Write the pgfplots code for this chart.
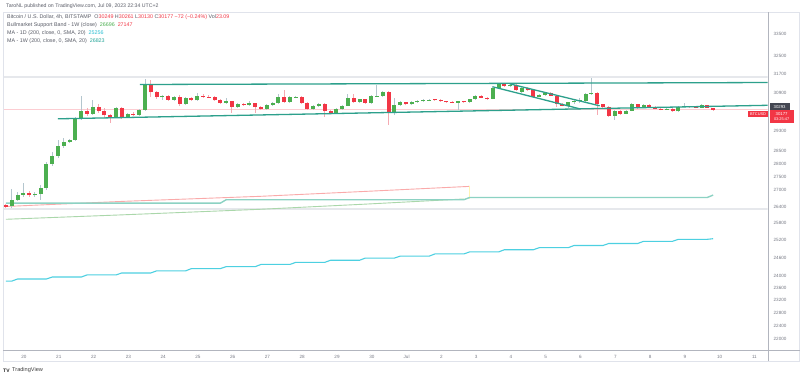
\documentclass[border=0pt]{standalone}
\usepackage{pgfplots}
\pgfplotsset{compat=1.18}
\usepackage{pgfplotstable}
\usepackage{fontspec}
\setmainfont{Liberation Sans}

\definecolor{tvup}{RGB}{76,175,80}
\definecolor{tvdown}{RGB}{242,54,69}
\definecolor{tvupwick}{RGB}{180,198,206}
\definecolor{tvdownwick}{RGB}{245,170,178}
\definecolor{tvtext}{RGB}{90,93,104}
\definecolor{tvgray}{RGB}{120,123,134}
\definecolor{tvdark}{RGB}{67,70,81}
\definecolor{trend}{RGB}{45,160,140}
\definecolor{macyan}{RGB}{77,208,225}
\definecolor{macyantxt}{RGB}{38,190,210}
\definecolor{mateal}{RGB}{140,210,195}
\definecolor{matealtxt}{RGB}{38,166,154}
\definecolor{bandred}{RGB}{250,170,170}
\definecolor{bandgreen}{RGB}{170,215,170}
\definecolor{hline}{RGB}{230,232,236}
\definecolor{frame}{RGB}{224,227,235}
\definecolor{axisln}{RGB}{178,181,190}
\definecolor{priceln}{RGB}{252,205,210}
\definecolor{bandyellow}{RGB}{255,245,180}

\pgfplotstableread{
i O H L C
1 26405 27057 26357 26650
2 26650 26945 26613 26834
3 26834 27282 26760 26897
5 26815 26945 26760 26860
6 26852 27206 26650 27083
7 27083 28083 27019 28006
8 28006 28473 27929 28317
9 28317 28948 28239 28710
10 28710 29028 28631 28880
11 28880 28988 28829 28948
12 28948 29880 28908 29826
13 29826 30761 29760 30144
15 30007 30592 29966 30311
19 29854 30298 29842 30243
21 29871 30048 29842 30019
23 29966 30214 29924 30173
24 30173 31478 30131 31232
27 30706 30804 30592 30761
29 30592 30761 30550 30706
31 30411 30719 30382 30664
33 30563 30889 30550 30774
38 30453 30676 30424 30521
40 30311 30466 30256 30424
42 30369 30550 30340 30437
45 30214 30424 30173 30382
46 30382 30508 30340 30453
47 30453 30846 30424 30732
49 30495 30761 30466 30706
50 30685 30740 30655 30706
53 30202 30382 30173 30340
54 30340 30466 30298 30424
57 30061 30256 30048 30202
58 30202 30382 30173 30353
59 30353 30846 30340 30676
61 30495 30634 30466 30605
63 30453 30804 30424 30749
64 30749 31245 30719 30774
65 30774 30974 30719 30902
67 30061 30676 29966 30382
68 30382 30550 30340 30495
70 30403 30529 30382 30495
71 30487 30571 30466 30537
72 30529 30613 30508 30579
73 30571 30634 30550 30600
78 30474 30550 30173 30529
80 30508 30634 30466 30621
81 30621 30804 30592 30761
84 30634 31159 30613 31090
85 31090 31318 31060 31275
87 31167 31275 31124 31232
89 30932 31124 30889 31090
92 30732 30846 30698 30804
93 30804 30910 30761 30876
97 30353 30508 30256 30479
98 30479 30592 30424 30550
99 30550 30676 30466 30592
100 30550 30889 30466 30846
101 30846 31522 30804 30876
105 29924 30173 29760 30144
107 30007 30152 29987 30131
108 30131 30445 30110 30411
110 30243 30403 30235 30382
114 30185 30235 30173 30214
116 30102 30340 30090 30311
117 30311 30466 30277 30330
120 30265 30403 30256 30369
}\upc

\pgfplotstableread{
i O H L C
0 26466 26503 26357 26394
4 26890 26982 26760 26815
14 30144 30256 29924 30007
16 30311 30424 30048 30102
17 30102 30256 29842 29937
18 29937 30007 29637 29854
20 30243 30298 29801 29854
22 30019 30090 29924 29966
25 31232 31448 30719 30902
26 30902 30974 30634 30732
28 30761 30804 30550 30592
30 30706 30804 30340 30411
32 30664 30719 30550 30563
34 30774 30846 30676 30732
35 30732 30804 30676 30698
36 30698 30761 30550 30571
37 30571 30634 30424 30453
39 30521 30550 30048 30311
41 30424 30466 30340 30369
43 30437 30466 30048 30285
44 30285 30340 30173 30214
48 30732 31017 30466 30495
51 30706 30761 30424 30453
52 30453 30508 30173 30202
55 30424 30466 29895 30102
56 30102 30173 30007 30061
60 30676 30846 30466 30495
62 30605 30634 30424 30453
66 30902 30974 29555 30061
69 30487 30508 30361 30403
74 30613 30634 30550 30579
75 30579 30613 30508 30529
76 30529 30550 30466 30495
77 30495 30529 30445 30474
79 30529 30550 30466 30495
82 30761 30782 30655 30689
83 30689 30719 30592 30634
86 31275 31296 31146 31188
88 31232 31253 30953 30987
90 31090 31124 30953 30987
91 30987 31017 30698 30732
94 30876 30910 30740 30774
95 30774 30804 30298 30411
96 30411 30466 30319 30353
102 30876 30910 29966 30411
103 30411 30424 30256 30311
104 30311 30340 29883 29924
106 30144 30173 29966 30007
109 30411 30424 30214 30243
111 30382 30403 30277 30298
112 30298 30319 30194 30214
113 30214 30256 30152 30185
115 30214 30235 30090 30102
118 30319 30340 30256 30277
119 30277 30298 30235 30255
121 30369 30382 30256 30249
122 30249 30261 30130 30177
}\downc

\begin{document}
\begin{tikzpicture}
\begin{scope}[x=1pt,y=1pt]
\useasboundingbox (0,0) rectangle (800,378);
\fill[white] (0,0) rectangle (800,378);
\end{scope}

\begin{axis}[
  at={(4pt,27pt)}, anchor=south west,
  scale only axis, width=764pt, height=338pt,
  xmin=-0.33, xmax=131.4,
  ymode=log, ymin=21639, ymax=34491,
  axis line style={draw=none},
  major tick length=0pt, minor tick num=0,
  xtick={3.12,9.12,15.12,21.12,27.12,33.12,39.12,45.12,51.12,57.12,63.12,69.12,75.12,81.12,87.12,93.12,99.12,105.12,111.12,117.12,123.12,129.12},
  xticklabels={20,21,22,23,24,25,26,27,28,29,30,Jul,2,3,4,5,6,7,8,9,10,11},
  ytick={22000,22400,22800,23200,23600,24000,24600,25200,25800,26400,27000,27500,28000,28500,29300,30900,31700,32500,33500},
  yticklabels={22000,22400,22800,23200,23600,24000,24600,25200,25800,26400,27000,27500,28000,28500,29300,30900,31700,32500,33500},
  yticklabel pos=right,
  ticklabel style={font=\fontsize{4.6}{5.5}\selectfont, text=tvgray},
  yticklabel style={anchor=west, xshift=2.5pt},
  xticklabel style={yshift=-1pt},
  grid=none,
]
% horizontal drawings
\addplot[hline, line width=1.5pt, forget plot] coordinates {(-0.33,31578) (131.4,31578)};
\addplot[hline, line width=1.5pt, forget plot] coordinates {(-0.33,26321) (131.4,26321)};
\addplot[priceln, line width=0.9pt, forget plot] coordinates {(-0.33,30177) (131.4,30177)};
% MA 1D
\addplot[macyan, line width=1.1pt, forget plot] coordinates {
(0,23820)(1,23820)(2,23890)(7,23890)(8,23955)(13,23955)(14,24025)(19,24025)(20,24090)(25,24090)(26,24160)(31,24160)(32,24235)(37,24235)(38,24300)(43,24300)(44,24375)(49,24375)(50,24445)(55,24445)(56,24515)(61,24515)(62,24590)(67,24590)(68,24655)(73,24655)(74,24730)(79,24730)(80,24800)(85,24800)(86,24875)(91,24875)(92,24945)(97,24945)(98,25020)(103,25020)(104,25090)(109,25090)(110,25165)(115,25165)(116,25235)(121,25235)(122,25256)};
% Bull market support band
\addplot[bandred, line width=0.9pt, forget plot] coordinates {(0,26405)(20,26590)(44,26778)(62,26960)(80,27147)};
\addplot[bandgreen, line width=0.9pt, forget plot] coordinates {(0,25942)(20,26100)(44,26303)(62,26490)(79,26680)};
\addplot[bandyellow, line width=1.5pt, forget plot] coordinates {(80,26690)(80,27147)};
% MA 1W
\addplot[mateal, line width=1.4pt, forget plot] coordinates {(0,26527)(37,26527)(38,26651)(79,26651)(80,26735)(121,26735)(122,26823)};

% candles: wicks
\addplot[draw=none, mark=none, forget plot, error bars/.cd, y dir=plus, y explicit, error mark=none,
  error bar style={draw=tvupwick, line width=1pt}]
  table[x=i, y=L, y error plus expr=\thisrow{H}-\thisrow{L}] {\upc};
\addplot[draw=none, mark=none, forget plot, error bars/.cd, y dir=plus, y explicit, error mark=none,
  error bar style={draw=tvdownwick, line width=1pt}]
  table[x=i, y=L, y error plus expr=\thisrow{H}-\thisrow{L}] {\downc};
% candles: bodies
\addplot[draw=none, mark=none, forget plot, error bars/.cd, y dir=plus, y explicit, error mark=none,
  error bar style={draw=tvup, line width=4pt, line cap=butt}]
  table[x=i, y=O, y error plus expr=\thisrow{C}-\thisrow{O}] {\upc};
\addplot[draw=none, mark=none, forget plot, error bars/.cd, y dir=plus, y explicit, error mark=none,
  error bar style={draw=tvdown, line width=4pt, line cap=butt}]
  table[x=i, y=C, y error plus expr=\thisrow{O}-\thisrow{C}] {\downc};

% trend lines (drawings)
\addplot[trend, line width=1.3pt, forget plot] coordinates {(8.98,29801)(131.4,30361)};
\addplot[trend, line width=1.3pt, forget plot] coordinates {(23.12,31245)(131.4,31331)};
\addplot[trend, line width=1.3pt, forget plot] coordinates {(83.98,31146)(98.98,30214)};
\addplot[trend, line width=1.3pt, forget plot] coordinates {(86.91,31275)(102.43,30340)};
\end{axis}

\begin{scope}[x=1pt,y=1pt]
% frame
\draw[frame, line width=0.8pt] (3.5,16.5) rectangle (800,365.5);
\draw[axisln, line width=0.8pt] (3.5,27) -- (800,27);
\draw[axisln, line width=0.8pt] (768.5,16.5) -- (768.5,365.5);
% header
\node[anchor=west, inner sep=0, font=\fontsize{5.2}{6}\selectfont, text=tvtext] at (6,372.3)
  {TaroNL published on TradingView.com, Jul 09, 2023 22:34 UTC+2};
\node[anchor=west, inner sep=0, font=\fontsize{5.35}{6}\selectfont, text=tvtext] at (7,360.7)
  {Bitcoin / U.S. Dollar, 4h, BITSTAMP\ \ O\textcolor{tvdown}{30249} H\textcolor{tvdown}{30261} L\textcolor{tvdown}{30130} C\textcolor{tvdown}{30177} \textcolor{tvdown}{−72 (−0.24\%)} Vol\textcolor{tvdown}{23.09}};
\node[anchor=west, inner sep=0, font=\fontsize{5.35}{6}\selectfont, text=tvtext] at (7,352.7)
  {Bullmarket Support Band - 1W (close)\ \ \textcolor{tvup}{26696}\ \ \textcolor{tvdown}{27147}};
\node[anchor=west, inner sep=0, font=\fontsize{5.35}{6}\selectfont, text=tvtext] at (7,344.7)
  {MA - 1D (200, close, 0, SMA, 20)\ \ \textcolor{macyantxt}{25256}};
\node[anchor=west, inner sep=0, font=\fontsize{5.35}{6}\selectfont, text=tvtext] at (7,337)
  {MA - 1W (200, close, 0, SMA, 20)\ \ \textcolor{matealtxt}{26823}};
% price labels
\fill[tvdark] (770,267) rectangle (790,274.7);
\node[text=white, inner sep=0, font=\fontsize{4.3}{5}\selectfont] at (780,270.8) {30293};
\fill[tvdown] (770.5,255) rectangle (794,267.5);
\node[text=white, inner sep=0, font=\fontsize{4.3}{5}\selectfont] at (782,263.8) {30177};
\node[text=white, inner sep=0, font=\fontsize{3.9}{4.5}\selectfont] at (782,258.6) {03:25:47};
\fill[tvdown] (748.3,260.5) rectangle (768.5,267.2);
\node[text=white, inner sep=0, font=\fontsize{3.9}{4.5}\selectfont] at (758.4,263.8) {BTCUSD};
% logo
\node[anchor=west, inner sep=0, font=\fontsize{5}{6}\selectfont\bfseries, text={black!85}] at (3,7.5) {TV};
\node[anchor=west, inner sep=0, font=\fontsize{5.6}{6.5}\selectfont, text={black!75}] at (12,7.5) {TradingView};
\end{scope}
\end{tikzpicture}
\end{document}
